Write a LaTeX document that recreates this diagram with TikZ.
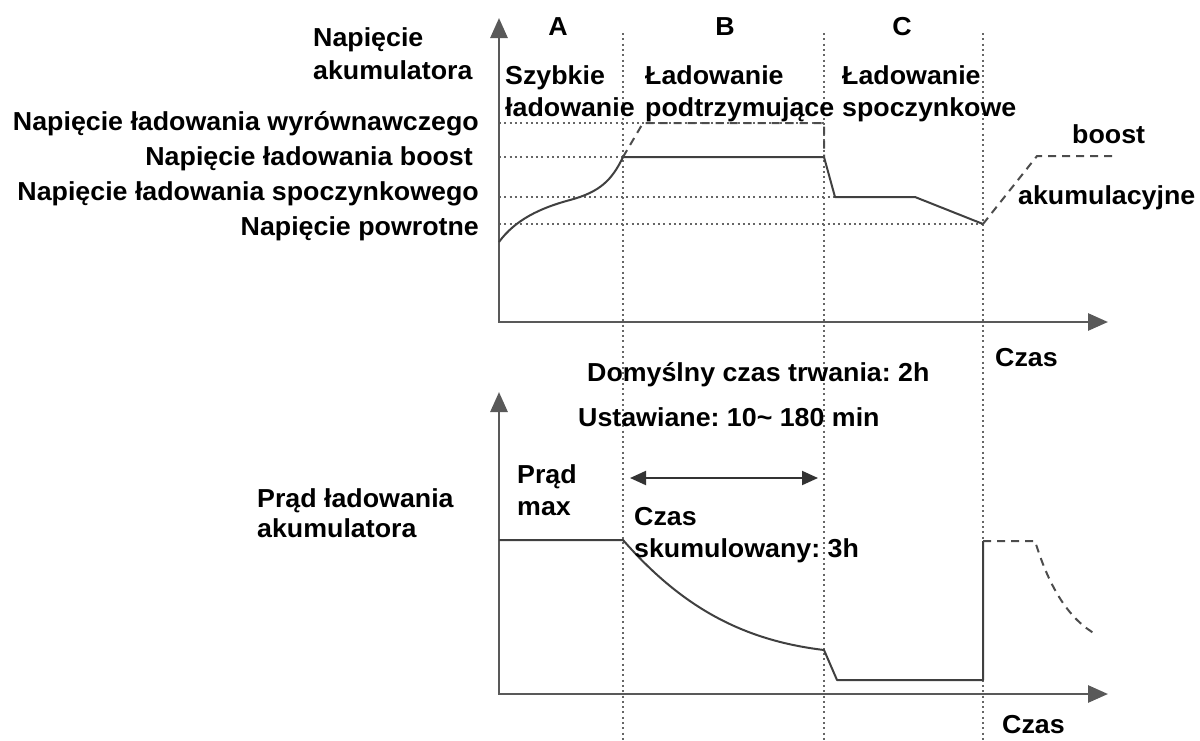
\documentclass[tikz,border=0pt]{standalone}
\usepackage{fontspec}
\setmainfont[FakeStretch=1.03]{Liberation Sans}
\usetikzlibrary{arrows.meta}
\begin{document}
\frenchspacing
\begin{tikzpicture}[x=1pt,y=-1pt,
    every node/.style={font=\fontsize{26}{32}\selectfont\bfseries,inner sep=0pt,align=left},
    axis/.style={draw=black!65,line width=2.8pt,line join=miter,
      {Triangle[length=20pt,width=17pt]}-{Triangle[length=20pt,width=17pt]}},
    guide/.style={draw=black!60,line width=2pt,dash pattern=on 2pt off 3.3pt},
    trace/.style={draw=black!75,line width=2pt,line join=round},
    ghost/.style={draw=black!70,line width=2pt,dash pattern=on 8pt off 6pt},
    span/.style={draw=black!80,line width=2pt,
      {Triangle[length=16pt,width=14pt]}-{Triangle[length=16pt,width=14pt]}}]
  \useasboundingbox (0,0) rectangle (1200,740);

  % axes
  \coordinate (Y1) at (499,18);
  \coordinate (O1) at (499,322);
  \coordinate (X1) at (1108,322);
  \coordinate (Y2) at (499,392);
  \coordinate (O2) at (499,694);
  \coordinate (X2) at (1108,694);

  % phase borders and levels
  \foreach \x in {623,824,983}
    \draw[guide] (\x,33) -- (\x,740);
  \draw[guide] (499,123) -- (824,123);
  \draw[guide] (499,157) -- (824,157);
  \draw[guide] (499,197) -- (835,197);
  \draw[guide] (499,224) -- (983,224);

  \draw[axis] (Y1) -- (O1) -- (X1);
  \draw[axis] (Y2) -- (O2) -- (X2);

  % battery voltage
  \coordinate (v0) at (499,242);
  \coordinate (v1) at (623,157);
  \coordinate (v2) at (824,157);
  \coordinate (v3) at (835,197);
  \coordinate (v4) at (915,197);
  \coordinate (v5) at (983,224);
  \draw[trace] (v0) .. controls (515,220) and (540,208) .. (570,200)
    .. controls (600,192) and (612,180) .. (v1) -- (v2) -- (v3) -- (v4) -- (v5);
  \draw[ghost] (v1) -- (643,123) -- (824,123) -- (v2);
  \draw[ghost] (v5) -- (1037,156) -- (1112,156);

  % charging current
  \coordinate (i0) at (499,540);
  \coordinate (i1) at (623,540);
  \coordinate (i2) at (824,650);
  \coordinate (i3) at (837,680);
  \coordinate (i4) at (983,680);
  \coordinate (i5) at (983,541);
  \draw[trace] (i0) -- (i1) .. controls (680,605) and (740,640) .. (i2)
    -- (i3) -- (i4) -- (i5);
  \draw[ghost] (i5) -- (1035,541) .. controls (1050,590) and (1070,620) .. (1097,635);

  \coordinate (sl) at (630,478);
  \coordinate (sr) at (818,478);
  \draw[span] (sl) -- (sr);

  % labels
  \node[anchor=base] at (558,35) (A) {A};
  \node[anchor=base] at (725,35) (B) {B};
  \node[anchor=base] at (902,35) (C) {C};
  \node[anchor=north west] at (505,65) (fast) {Szybkie\\ładowanie};
  \node[anchor=north west] at (645,65) (hold) {Ładowanie\\podtrzymujące};
  \node[anchor=north west] at (842,65) (rest) {Ładowanie\\spoczynkowe};
  \node[anchor=north west] at (313,27) (uaxis) {Napięcie\\[1pt]akumulatora};
  \node[anchor=north east] at (479,111) (ueq) {Napięcie ładowania wyrównawczego};
  \node[anchor=north east] at (473,146) (uboost) {Napięcie ładowania boost};
  \node[anchor=north east] at (479,181) (ufloat) {Napięcie ładowania spoczynkowego};
  \node[anchor=north east] at (479,216) (uback) {Napięcie powrotne};
  \node[anchor=north west] at (1072,124) (boost) {boost};
  \node[anchor=north west] at (1018,185) (accu) {akumulacyjne};
  \node[anchor=north west] at (995,348) (t1) {Czas};
  \node[anchor=north west] at (587,362) (dflt) {Domyślny czas trwania: 2h};
  \node[anchor=north west] at (578,407) (set) {Ustawiane: 10\textasciitilde\ 180 min};
  \node[anchor=north west] at (517,464) (imax) {Prąd\\max};
  \node[anchor=north west] at (257,488) (iaxis) {Prąd ładowania\\[-2pt]akumulatora};
  \node[anchor=north west] at (634,507) (cum) {Czas\\skumulowany: 3h};
  \node[anchor=north west] at (1002,715) (t2) {Czas};
\end{tikzpicture}
\end{document}
